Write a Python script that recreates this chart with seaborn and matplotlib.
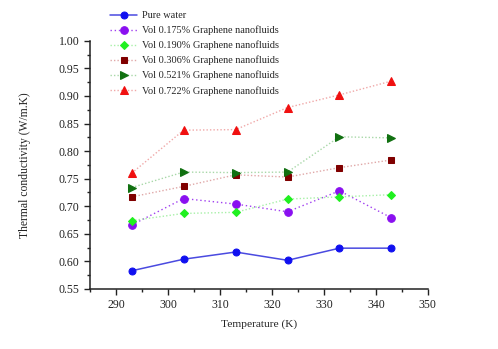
import numpy as np
import pandas as pd
import matplotlib
matplotlib.use("Agg")
import matplotlib.pyplot as plt
from matplotlib.ticker import MultipleLocator
import seaborn as sns

sns.set_theme(style="ticks")
plt.rcParams['font.family'] = ['Liberation Serif', 'DejaVu Serif']

temperature = [293, 303, 313, 323, 333, 343]
pure_water = [0.583, 0.604, 0.617, 0.602, 0.624, 0.624]
vol_0175 = [0.666, 0.714, 0.704, 0.690, 0.728, 0.679]
vol_0190 = [0.674, 0.687, 0.689, 0.713, 0.717, 0.721]
vol_0306 = [0.717, 0.736, 0.757, 0.753, 0.770, 0.784]
vol_0521 = [0.734, 0.762, 0.761, 0.762, 0.826, 0.824]
vol_0722 = [0.760, 0.838, 0.839, 0.879, 0.902, 0.927]

labels = ["Pure water",
          "Vol 0.175% Graphene nanofluids",
          "Vol 0.190% Graphene nanofluids",
          "Vol 0.306% Graphene nanofluids",
          "Vol 0.521% Graphene nanofluids",
          "Vol 0.722% Graphene nanofluids"]
series = [pure_water, vol_0175, vol_0190, vol_0306, vol_0521, vol_0722]

# (line colour, marker colour, marker, linestyle, marker size)
styles = [
    ("#4a4ae0", "#1010f0", "o", "-", 5),
    ("#a040f0", "#8a10f0", "o", (0, (1, 2)), 5.5),
    ("#a8f0a8", "#20f020", "D", (0, (1, 1.5)), 4.5),
    ("#e0a8a8", "#800000", "s", (0, (1, 1.5)), 5),
    ("#a8d8a8", "#107010", ">", (0, (1, 1.5)), 6),
    ("#f0a8a8", "#f01010", "^", (0, (1, 1.5)), 6),
]

fig = plt.figure(figsize=(4.98, 3.49), dpi=100)
ax = fig.add_axes([0.181, 0.172, 0.678, 0.711])

for lab, vals, (lc, mc, mk, ls, ms) in zip(labels, series, styles):
    df = pd.DataFrame({"T": temperature, "k": vals})
    sns.lineplot(data=df, x="T", y="k", ax=ax, color=lc, linestyle=ls,
                 linewidth=1.1 if ls == "-" else 1.0, marker=mk,
                 markersize=ms, markerfacecolor=mc, markeredgecolor=mc,
                 label=lab)

ax.set_xlim(285, 350)
ax.set_ylim(0.55, 1.00)
ax.xaxis.set_major_locator(MultipleLocator(10))
ax.xaxis.set_minor_locator(MultipleLocator(5))
ax.yaxis.set_major_locator(MultipleLocator(0.05))
ax.yaxis.set_minor_locator(MultipleLocator(0.025))
ax.yaxis.set_major_formatter(matplotlib.ticker.FormatStrFormatter("%.2f"))
ax.tick_params(which="major", direction="out", length=4, width=1,
               labelsize=8.5, colors="#222222", labelcolor="#222222")
ax.tick_params(which="minor", direction="out", length=2.5, width=1,
               colors="#222222")
sns.despine(ax=ax)
for s in ("left", "bottom"):
    ax.spines[s].set_color("#222222")
    ax.spines[s].set_linewidth(1.1)

ax.set_xlabel("Temperature (K)", fontsize=8.2, color="#222222", labelpad=6)
ax.set_ylabel("Thermal conductivity (W/m.K)", fontsize=8.4, color="#222222",
              labelpad=20)

ax.legend(loc="upper left", bbox_to_anchor=(0.212, 0.98),
          bbox_transform=fig.transFigure, frameon=False, fontsize=7.4,
          handlelength=2.7, handletextpad=0.45, labelspacing=0.52,
          borderaxespad=0)

fig.savefig("out.png", dpi=100)
